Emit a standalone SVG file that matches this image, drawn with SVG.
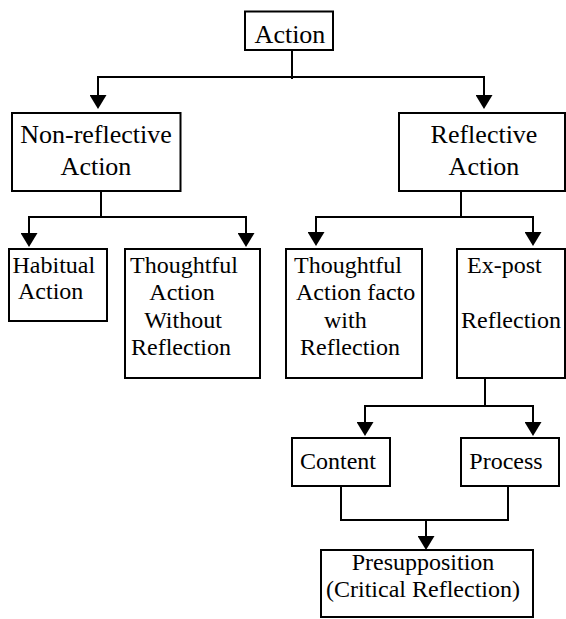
<svg xmlns="http://www.w3.org/2000/svg" width="566" height="619" viewBox="0 0 566 619">
  <style>
    .box { fill: #fff; stroke: #000; stroke-width: 2; }
    .lbl { font-family: "Liberation Serif", "Times New Roman", serif; font-size: 24px; fill: #000; }
    .big { font-size: 26px; }
    .mid { text-anchor: middle; }
    .wire { fill: none; stroke: #000; stroke-width: 2; }
    .arr { marker-start: url(#head); marker-end: url(#head); }
    .arr-end { marker-end: url(#head); }
  </style>
  <defs>
    <marker id="head" viewBox="0 0 14 17" refX="8" refY="8.5" markerWidth="14" markerHeight="17" markerUnits="userSpaceOnUse" orient="auto-start-reverse">
      <path d="M0,0 L14,8.5 L0,17 Z" fill="#000"/>
    </marker>
  </defs>

  <rect width="566" height="619" fill="#fff"/>

  <g id="connectors">
    <path class="wire" d="M292,50 V79"/>
    <path class="wire arr" d="M98,103 V77 H484 V103"/>
    <path class="wire" d="M101,191 V217"/>
    <path class="wire arr" d="M29,241 V217 H246 V241"/>
    <path class="wire" d="M461,191 V217"/>
    <path class="wire arr" d="M316,240 V217 H533 V240"/>
    <path class="wire" d="M485,368 V406"/>
    <path class="wire arr" d="M365,430 V406 H533 V430"/>
    <path class="wire" d="M341,482 V520 H508 V482"/>
    <path class="wire arr-end" d="M426,520 V544"/>
  </g>

  <g id="action">
    <rect class="box" x="245" y="11.5" width="88" height="38.5"/>
    <text class="lbl big mid" x="290" y="42.5">Action</text>
  </g>

  <g id="non-reflective">
    <rect class="box" x="12" y="113" width="168.5" height="78"/>
    <text class="lbl big mid" x="96" y="142.5">Non-reflective</text>
    <text class="lbl big mid" x="96" y="175">Action</text>
  </g>

  <g id="reflective">
    <rect class="box" x="399" y="113" width="166" height="78"/>
    <text class="lbl big mid" x="484" y="142.5">Reflective</text>
    <text class="lbl big mid" x="484" y="175">Action</text>
  </g>

  <g id="habitual">
    <rect class="box" x="9" y="249" width="98" height="72"/>
    <text class="lbl" x="12.5" y="272.5">Habitual</text>
    <text class="lbl" x="18" y="299">Action</text>
  </g>

  <g id="thoughtful-without">
    <rect class="box" x="125" y="249" width="135" height="129"/>
    <text class="lbl mid" x="184" y="272.5">Thoughtful</text>
    <text class="lbl mid" x="182" y="299.5">Action</text>
    <text class="lbl mid" x="183" y="327.5">Without</text>
    <text class="lbl mid" x="181" y="355">Reflection</text>
  </g>

  <g id="thoughtful-with">
    <rect class="box" x="286" y="249" width="136" height="129"/>
    <text class="lbl" x="294" y="272.5">Thoughtful</text>
    <text class="lbl" x="296" y="300">Action facto</text>
    <text class="lbl" x="324" y="327.5">with</text>
    <text class="lbl" x="300" y="355">Reflection</text>
  </g>

  <g id="ex-post">
    <rect class="box" x="457" y="249" width="108" height="129"/>
    <text class="lbl" x="467" y="272.5">Ex-post</text>
    <text class="lbl" x="461" y="327.5">Reflection</text>
  </g>

  <g id="content">
    <rect class="box" x="292" y="438" width="98" height="48"/>
    <text class="lbl mid" x="338" y="469">Content</text>
  </g>

  <g id="process">
    <rect class="box" x="461" y="438" width="98" height="48"/>
    <text class="lbl mid" x="506" y="469">Process</text>
  </g>

  <g id="presupposition">
    <rect class="box" x="321" y="550" width="212" height="67"/>
    <text class="lbl mid" x="423" y="570">Presupposition</text>
    <text class="lbl mid" x="423" y="597">(Critical Reflection)</text>
  </g>
</svg>
